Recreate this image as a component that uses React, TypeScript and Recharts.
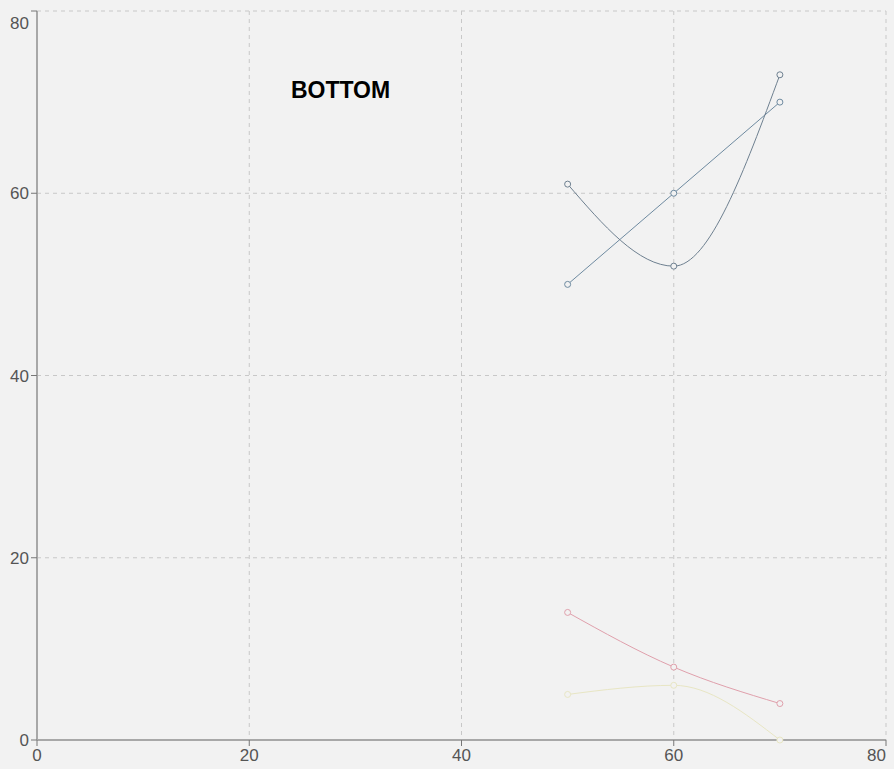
import React from "react";
import { ComposedChart, Line, XAxis, YAxis, CartesianGrid, ReferenceDot } from "recharts";

const xValues = [50, 60, 70];
const seriesA = [50, 60, 70];
const seriesB = [61, 52, 73];
const seriesC = [14, 8, 4];
const seriesD = [5, 6, 0];
const xTicks = [0, 20, 40, 60, 80];
const yTicks = [0, 20, 40, 60, 80];
const titleText = "BOTTOM";
const titlePos = { x: 28.6, y: 71.4 };

const data = xValues.map((x, i) => ({ x, a: seriesA[i], b: seriesB[i], c: seriesC[i], d: seriesD[i] }));

const BG = "#f2f2f2";
const FONT = "Liberation Sans, Arial, sans-serif";
const dot = (color: string) => ({ r: 3, fill: BG, stroke: color, strokeWidth: 1 });

const XTick = (props: any) => {
  const { x, y, payload, index } = props;
  const last = payload.value === xTicks[xTicks.length - 1];
  return (
    <text
      x={x}
      y={y}
      dy={13}
      textAnchor={last ? "end" : "middle"}
      fill="#555"
      fontSize={17}
      fontFamily={FONT}
      key={index}
    >
      {payload.value}
    </text>
  );
};

const YTick = (props: any) => {
  const { x, y, payload, index } = props;
  const top = payload.value === yTicks[yTicks.length - 1];
  return (
    <text
      x={x}
      y={y}
      dy={top ? 18 : 6}
      textAnchor="end"
      fill="#555"
      fontSize={17}
      fontFamily={FONT}
      key={index}
    >
      {payload.value}
    </text>
  );
};

export default function App() {
  return (
    <div style={{ position: "fixed", left: 0, top: 0, width: 894, height: 769, background: BG }}>
      <ComposedChart width={894} height={769} data={data} margin={{ top: 11, right: 8, left: 0, bottom: 0 }}>
        <CartesianGrid strokeDasharray="4 4" stroke="#c8c8c8" />
        <XAxis
          type="number"
          dataKey="x"
          domain={[0, 80]}
          ticks={xTicks}
          height={29}
          axisLine={{ stroke: "#a8a8a8", strokeWidth: 2 }}
          tickLine={{ stroke: "#777" }}
          tick={<XTick />}
          tickSize={6}
        />
        <YAxis
          type="number"
          domain={[0, 80]}
          ticks={yTicks}
          width={37}
          axisLine={{ stroke: "#a8a8a8", strokeWidth: 2 }}
          tickLine={{ stroke: "#777" }}
          tick={<YTick />}
          tickSize={6}
        />
        <Line type="linear" dataKey="a" stroke="#6e8aa0" strokeWidth={1} dot={dot("#6e8aa0")} isAnimationActive={false} />
        <Line type="monotone" dataKey="b" stroke="#6e8090" strokeWidth={1} dot={dot("#6e8090")} isAnimationActive={false} />
        <Line type="monotone" dataKey="c" stroke="#e0a0ac" strokeWidth={1} dot={dot("#e0a0ac")} isAnimationActive={false} />
        <Line type="monotone" dataKey="d" stroke="#e8e6c4" strokeWidth={1} dot={dot("#e8e6c4")} isAnimationActive={false} />
        <ReferenceDot
          x={titlePos.x}
          y={titlePos.y}
          r={0}
          fill="none"
          stroke="none"
          label={{ value: titleText, position: "center", fill: "#000", fontSize: 23, fontWeight: "bold", fontFamily: FONT }}
        />
      </ComposedChart>
    </div>
  );
}
